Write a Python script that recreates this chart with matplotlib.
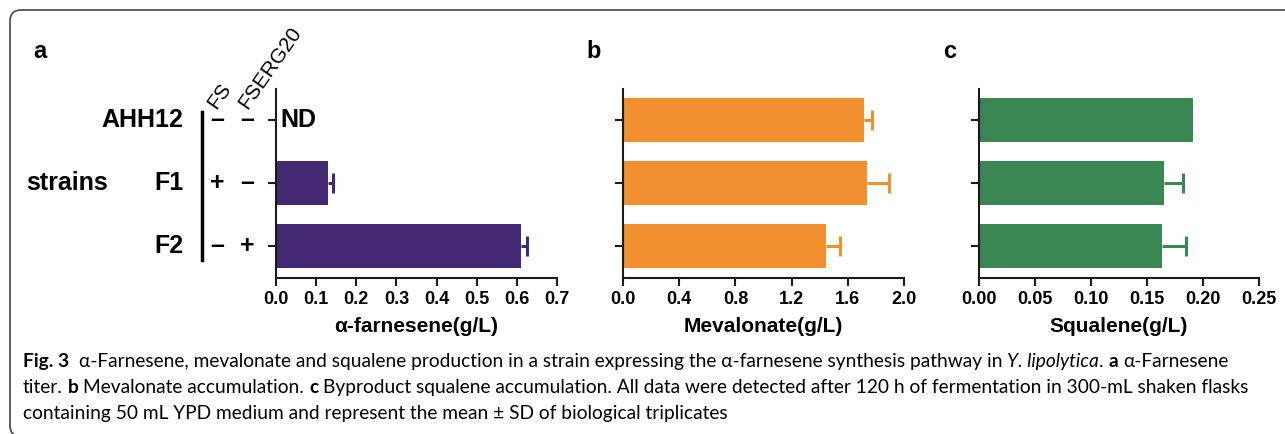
import matplotlib
matplotlib.use('Agg')
import matplotlib.pyplot as plt
import matplotlib.transforms as mtransforms
from matplotlib.patches import FancyBboxPatch
from matplotlib.ticker import FormatStrFormatter

# data
strains = ['AHH12', 'F1', 'F2']
fs_marks = ['–', '+', '–']
erg_marks = ['–', '–', '+']

farnesene = [0.003, 0.130, 0.611]
farnesene_sd = [0.0, 0.012, 0.015]
mevalonate = [1.713, 1.737, 1.447]
mevalonate_sd = [0.057, 0.156, 0.095]
squalene = [0.191, 0.165, 0.163]
squalene_sd = [0.0, 0.0175, 0.0214]

ticks_a = [0.0, 0.1, 0.2, 0.3, 0.4, 0.5, 0.6, 0.7]
ticks_b = [0.0, 0.4, 0.8, 1.2, 1.6, 2.0]
ticks_c = [0.00, 0.05, 0.10, 0.15, 0.20, 0.25]

purple = '#432874'
orange = '#f2902f'
green = '#3a8754'

W, H = 1285, 434
fig = plt.figure(figsize=(W / 100, H / 100), dpi=100)

BOLD = 'Liberation Sans'


def rect(l, t, r, b):
    return [l / W, 1 - b / H, (r - l) / W, (b - t) / H]


def panel(pos, vals, sd, color, ticks, fmt, xlabel):
    ax = fig.add_axes(rect(*pos))
    y = list(range(len(vals)))
    ax.barh(y, vals, height=0.7, color=color, edgecolor='none')
    for i in y:
        if sd[i] > 0:
            eb = ax.errorbar(vals[i], i, xerr=[[0], [sd[i]]], fmt='none', ecolor=color,
                             elinewidth=2.2, capsize=7.5, capthick=2.2)
            eb[1][0].set_visible(False)  # only the outer cap
    ax.set_ylim(2.5, -0.5)
    ax.set_xlim(ticks[0], ticks[-1])
    ax.set_xticks(ticks)
    ax.xaxis.set_major_formatter(FormatStrFormatter(fmt))
    ax.set_yticks(y)
    ax.set_yticklabels([])
    for s in ['top', 'right']:
        ax.spines[s].set_visible(False)
    for s in ['left', 'bottom']:
        ax.spines[s].set_linewidth(1.5)
        ax.spines[s].set_color('#1a1a1a')
    ax.tick_params(direction='out', length=6, width=1.5, color='#1a1a1a', pad=4)
    for lab in ax.get_xticklabels():
        lab.set_fontfamily(BOLD)
        lab.set_fontweight('bold')
        lab.set_fontsize(13)
    ax.set_xlabel(xlabel, fontfamily=BOLD, fontweight='bold', fontsize=15, labelpad=6)
    return ax


ax_a = panel((276, 88.5, 557, 277.5), farnesene, farnesene_sd, purple, ticks_a, '%.1f',
             'α-farnesene(g/L)')
ax_b = panel((623, 88.5, 904, 277.5), mevalonate, mevalonate_sd, orange, ticks_b, '%.1f',
             'Mevalonate(g/L)')
ax_c = panel((979, 88.5, 1259, 277.5), squalene, squalene_sd, green, ticks_c, '%.2f',
             'Squalene(g/L)')

# panel a row annotations
tr = mtransforms.blended_transform_factory(ax_a.transAxes, ax_a.transData)
for i, name in enumerate(strains):
    ax_a.text(-0.33, i, name, transform=tr, ha='right', va='center',
              family=BOLD, fontweight='bold', fontsize=18)
    ax_a.text(-0.21, i, fs_marks[i], transform=tr, ha='center', va='center',
              family=BOLD, fontweight='bold', fontsize=18)
    ax_a.text(-0.104, i, erg_marks[i], transform=tr, ha='center', va='center',
              family=BOLD, fontweight='bold', fontsize=18)
ax_a.text(-0.745, 1, 'strains', transform=tr, ha='center', va='center',
          family=BOLD, fontweight='bold', fontsize=18)
ax_a.plot([-0.264, -0.264], [-0.12, 2.23], transform=tr, color='black', lw=2.5,
          clip_on=False)
ax_a.text(0.012, 0, 'ND', ha='left', va='center', family=BOLD, fontweight='bold',
          fontsize=18)
ax_a.text(-0.2, 0.875, 'FS', transform=ax_a.transAxes, rotation=55,
          rotation_mode='anchor', ha='left', va='bottom', family=BOLD, fontsize=15)
ax_a.text(-0.092, 0.875, 'FSERG20', transform=ax_a.transAxes, rotation=55,
          rotation_mode='anchor', ha='left', va='bottom', family=BOLD, fontsize=15)

# panel letters
for letter, x in [('a', 40), ('b', 594), ('c', 950)]:
    fig.text(x / W, 1 - 52 / H, letter, ha='center', va='center', family=BOLD,
             fontweight='bold', fontsize=17)

# rounded frame, right and bottom edges fall outside the picture
frame = FancyBboxPatch((0.10, -0.025), 20.0, 4.265,
                       boxstyle='round,pad=0,rounding_size=0.11',
                       transform=fig.dpi_scale_trans, facecolor='none',
                       edgecolor='#505050', linewidth=1.3, clip_on=False)
fig.add_artist(frame)

# caption
CAP = ['Lato', 'DejaVu Sans']
line1 = [('Fig. 3', 'b'), ('  α-Farnesene, mevalonate and squalene production in a strain '
         'expressing the α-farnesene synthesis pathway in ', 'n'),
         ('Y. lipolytica', 'i'), ('. ', 'n'), ('a', 'b'), (' α-Farnesene', 'n')]
line2 = [('titer. ', 'n'), ('b', 'b'), (' Mevalonate accumulation. ', 'n'), ('c', 'b'),
         (' Byproduct squalene accumulation. All data were detected after 120 h of '
          'fermentation in 300-mL shaken flasks', 'n')]
line3 = [('containing 50 mL YPD medium and represent the mean ± SD of biological '
          'triplicates', 'n')]

renderer = fig.canvas.get_renderer()


def style(k):
    if k == 'b':
        return dict(fontweight='bold')
    if k == 'i':
        return dict(fontstyle='italic')
    return {}


def text_width(s, size, k):
    t = fig.text(0, 0, s, family=CAP, fontsize=size, **style(k))
    w = t.get_window_extent(renderer).width
    t.remove()
    return w


def draw_line(segs, x0, y0, size, draw=True):
    sp = text_width('x x', size, 'n') - text_width('xx', size, 'n')
    x = x0
    for s, k in segs:
        core = s.strip()
        x += sp * (len(s) - len(s.lstrip()))
        if core:
            if draw:
                fig.text(x / W, 1 - y0 / H, core, family=CAP, fontsize=size,
                         ha='left', va='baseline', **style(k))
            x += text_width(core, size, k)
        x += sp * (len(s) - len(s.rstrip()))
    return x


size0 = 14
w2 = draw_line(line2, 0, 0, size0, draw=False)
cap_size = size0 * 1233 / w2
draw_line(line1, 23, 367, cap_size)
draw_line(line2, 23, 393, cap_size)
draw_line(line3, 23, 419, cap_size)

fig.savefig('out.png', dpi=100)
